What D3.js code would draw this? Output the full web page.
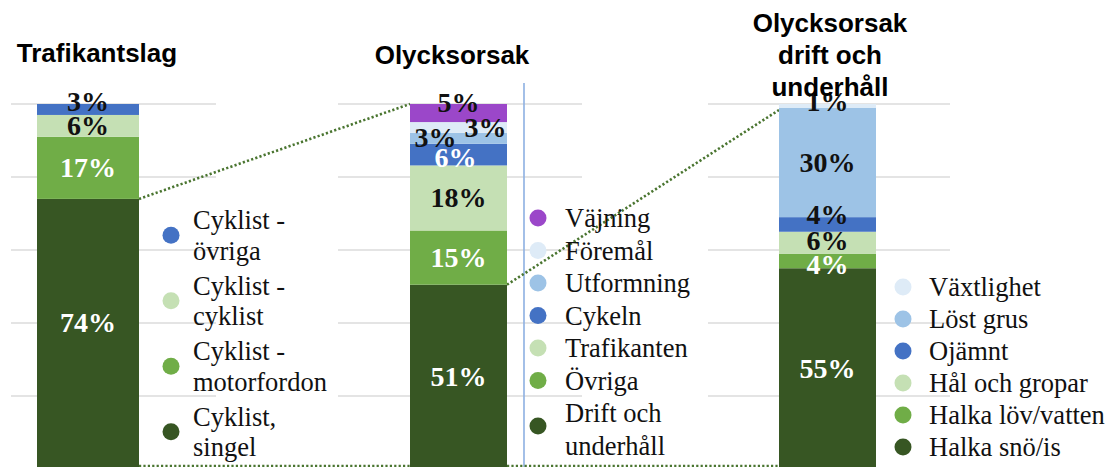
<!DOCTYPE html>
<head>
<meta charset="utf-8">
<script src="https://d3js.org/d3.v7.min.js"></script>
<style>
body { margin: 0; background: #fff; }
.title { font-family: "Liberation Sans", Arial, sans-serif; font-weight: bold; font-size: 26px; fill: #000; }
.lbl { font-family: "Liberation Serif", "Times New Roman", serif; font-weight: bold; font-size: 28px; }
.leg { font-family: "Liberation Serif", "Times New Roman", serif; font-size: 26.5px; fill: #111; }
.grid line { stroke: #e4e4e4; stroke-width: 2; }
.conn { stroke: #4a7530; stroke-width: 2.6; stroke-dasharray: 2.2 2.2; fill: none; }
</style>
</head>
<body>
<script>
// Trafikantslag (bottom to top)
var trafikCats = ["Cyklist,\nsingel", "Cyklist -\nmotorfordon", "Cyklist -\ncyklist", "Cyklist -\növriga"];
var trafikVals = [74, 17, 6, 3];

// Olycksorsak
var orsakCats = ["Drift och\nunderhåll", "Övriga", "Trafikanten", "Cykeln", "Utformning", "Föremål", "Väjning"];
var orsakVals = [51, 15, 18, 6, 3, 3, 5];

// Olycksorsak drift och underhåll
var driftCats = ["Halka snö/is", "Halka löv/vatten", "Hål och gropar", "Ojämnt", "Löst grus", "Växtlighet"];
var driftVals = [55, 4, 6, 4, 30, 1];

var gridTicks = [0.2, 0.4, 0.6, 0.8, 1];

var W = 1109, H = 467;
var svg = d3.select("body").append("svg").attr("width", W).attr("height", H);

var y = d3.scaleLinear().domain([0, 1]).range([469, 104]);

var charts = [
    {
        title: ["Trafikantslag"], tx: 97, ty: 62,
        cats: trafikCats, vals: trafikVals,
        colors: ["#375623", "#70ad47", "#c5e0b4", "#4472c4"],
        txt: ["#fff", "#fff", "#111", "#111"],
        nudge: [[0, -11], [0, 0], [0, 0], [0, -8]],
        bar: [37, 139], grid: [11, 216],
        leg: { cx: 171, tx: 193, y0: 229, line: 30.5, gap: 4.5 }
    },
    {
        title: ["Olycksorsak"], tx: 452, ty: 64,
        cats: orsakCats, vals: orsakVals,
        colors: ["#375623", "#70ad47", "#c5e0b4", "#4472c4", "#9dc3e6", "#deebf7", "#9b47c9"],
        txt: ["#fff", "#fff", "#111", "#fff", "#111", "#111", "#111"],
        nudge: [[0, 0], [0, 0], [0, 0], [-3, 3], [-23, -1], [27, 0], [0, -11]],
        bar: [410, 507], grid: [338, 582],
        leg: { cx: 538, tx: 565, y0: 227, line: 32.5, gap: 0 }
    },
    {
        title: ["Olycksorsak", "drift och", "underhåll"], tx: 830, ty: 32,
        cats: driftCats, vals: driftVals,
        colors: ["#375623", "#70ad47", "#c5e0b4", "#4472c4", "#9dc3e6", "#deebf7"],
        txt: ["#fff", "#fff", "#111", "#111", "#111", "#111"],
        nudge: [[0, 0], [0, 4], [0, -2], [0, -10], [0, 0], [0, -4]],
        bar: [779, 876], grid: [708, 950],
        leg: { cx: 903, tx: 929, y0: 296, line: 32, gap: 0 }
    }
];

// gridlines
charts.forEach(function(c) {
    svg.append("g").attr("class", "grid")
        .selectAll("line").data(gridTicks).enter().append("line")
        .attr("x1", c.grid[0]).attr("x2", c.grid[1])
        .attr("y1", function(d) { return y(d); })
        .attr("y2", function(d) { return y(d); });
});

// separator line
svg.append("line")
    .attr("x1", 524).attr("x2", 524).attr("y1", 83).attr("y2", H)
    .attr("stroke", "#8db0e2").attr("stroke-width", 1.6);

charts.forEach(function(c) {
    var keys = c.cats.map(function(d, i) { return i; });
    var row = {};
    c.vals.forEach(function(v, i) { row[i] = v; });
    c.series = d3.stack().keys(keys).offset(d3.stackOffsetExpand)([row]);
    c.x = d3.scaleBand().domain(["bar"]).range(c.bar).padding(0);
});

// connector lines
var c0 = charts[0], c1 = charts[1], c2 = charts[2];
var conns = [
    [c0.x.range()[1], y(c0.series[0][0][1]), c1.x.range()[0], y(1)],
    [c0.x.range()[1], y(0) - 3, c1.x.range()[0], y(0) - 3],
    [c1.x.range()[1], y(c1.series[0][0][1]), c2.x.range()[0], y(1) + 6],
    [c1.x.range()[1], y(0) - 3, c2.x.range()[0], y(0) - 3]
];
svg.selectAll(".conn").data(conns).enter().append("line")
    .attr("class", "conn")
    .attr("x1", function(d) { return d[0]; }).attr("y1", function(d) { return d[1]; })
    .attr("x2", function(d) { return d[2]; }).attr("y2", function(d) { return d[3]; });

charts.forEach(function(c) {
    var g = svg.append("g");

    g.selectAll("rect").data(c.series).enter().append("rect")
        .attr("x", c.x("bar"))
        .attr("width", c.x.bandwidth())
        .attr("y", function(s) { return y(s[0][1]); })
        .attr("height", function(s) { return y(s[0][0]) - y(s[0][1]); })
        .attr("fill", function(s, i) { return c.colors[i]; });

    g.selectAll(".lbl").data(c.series).enter().append("text")
        .attr("class", "lbl")
        .attr("text-anchor", "middle")
        .attr("x", function(s, i) { return c.x("bar") + c.x.bandwidth() / 2 + c.nudge[i][0]; })
        .attr("y", function(s, i) { return (y(s[0][0]) + y(s[0][1])) / 2 + c.nudge[i][1]; })
        .attr("dy", "0.34em")
        .attr("fill", function(s, i) { return c.txt[i]; })
        .text(function(s, i) { return c.vals[i] + "%"; });

    // title
    var t = svg.append("text").attr("class", "title").attr("text-anchor", "middle");
    c.title.forEach(function(line, i) {
        t.append("tspan").attr("x", c.tx).attr("y", c.ty + i * 32).text(line);
    });

    // legend, top item first
    var yy = c.leg.y0;
    for (var i = c.cats.length - 1; i >= 0; i--) {
        var lines = c.cats[i].split("\n");
        var first = yy, last = yy + (lines.length - 1) * c.leg.line;
        var cy = lines.length > 1 && c.leg.gap === 0 ? first + 4 : (first + last) / 2 - 9;
        g.append("circle")
            .attr("cx", c.leg.cx).attr("cy", cy).attr("r", 8.5)
            .attr("fill", c.colors[i]);
        var lt = g.append("text").attr("class", "leg");
        lines.forEach(function(l, j) {
            lt.append("tspan").attr("x", c.leg.tx).attr("y", first + j * c.leg.line).text(l);
        });
        yy = last + c.leg.line + c.leg.gap;
    }
});
</script>
</body>
